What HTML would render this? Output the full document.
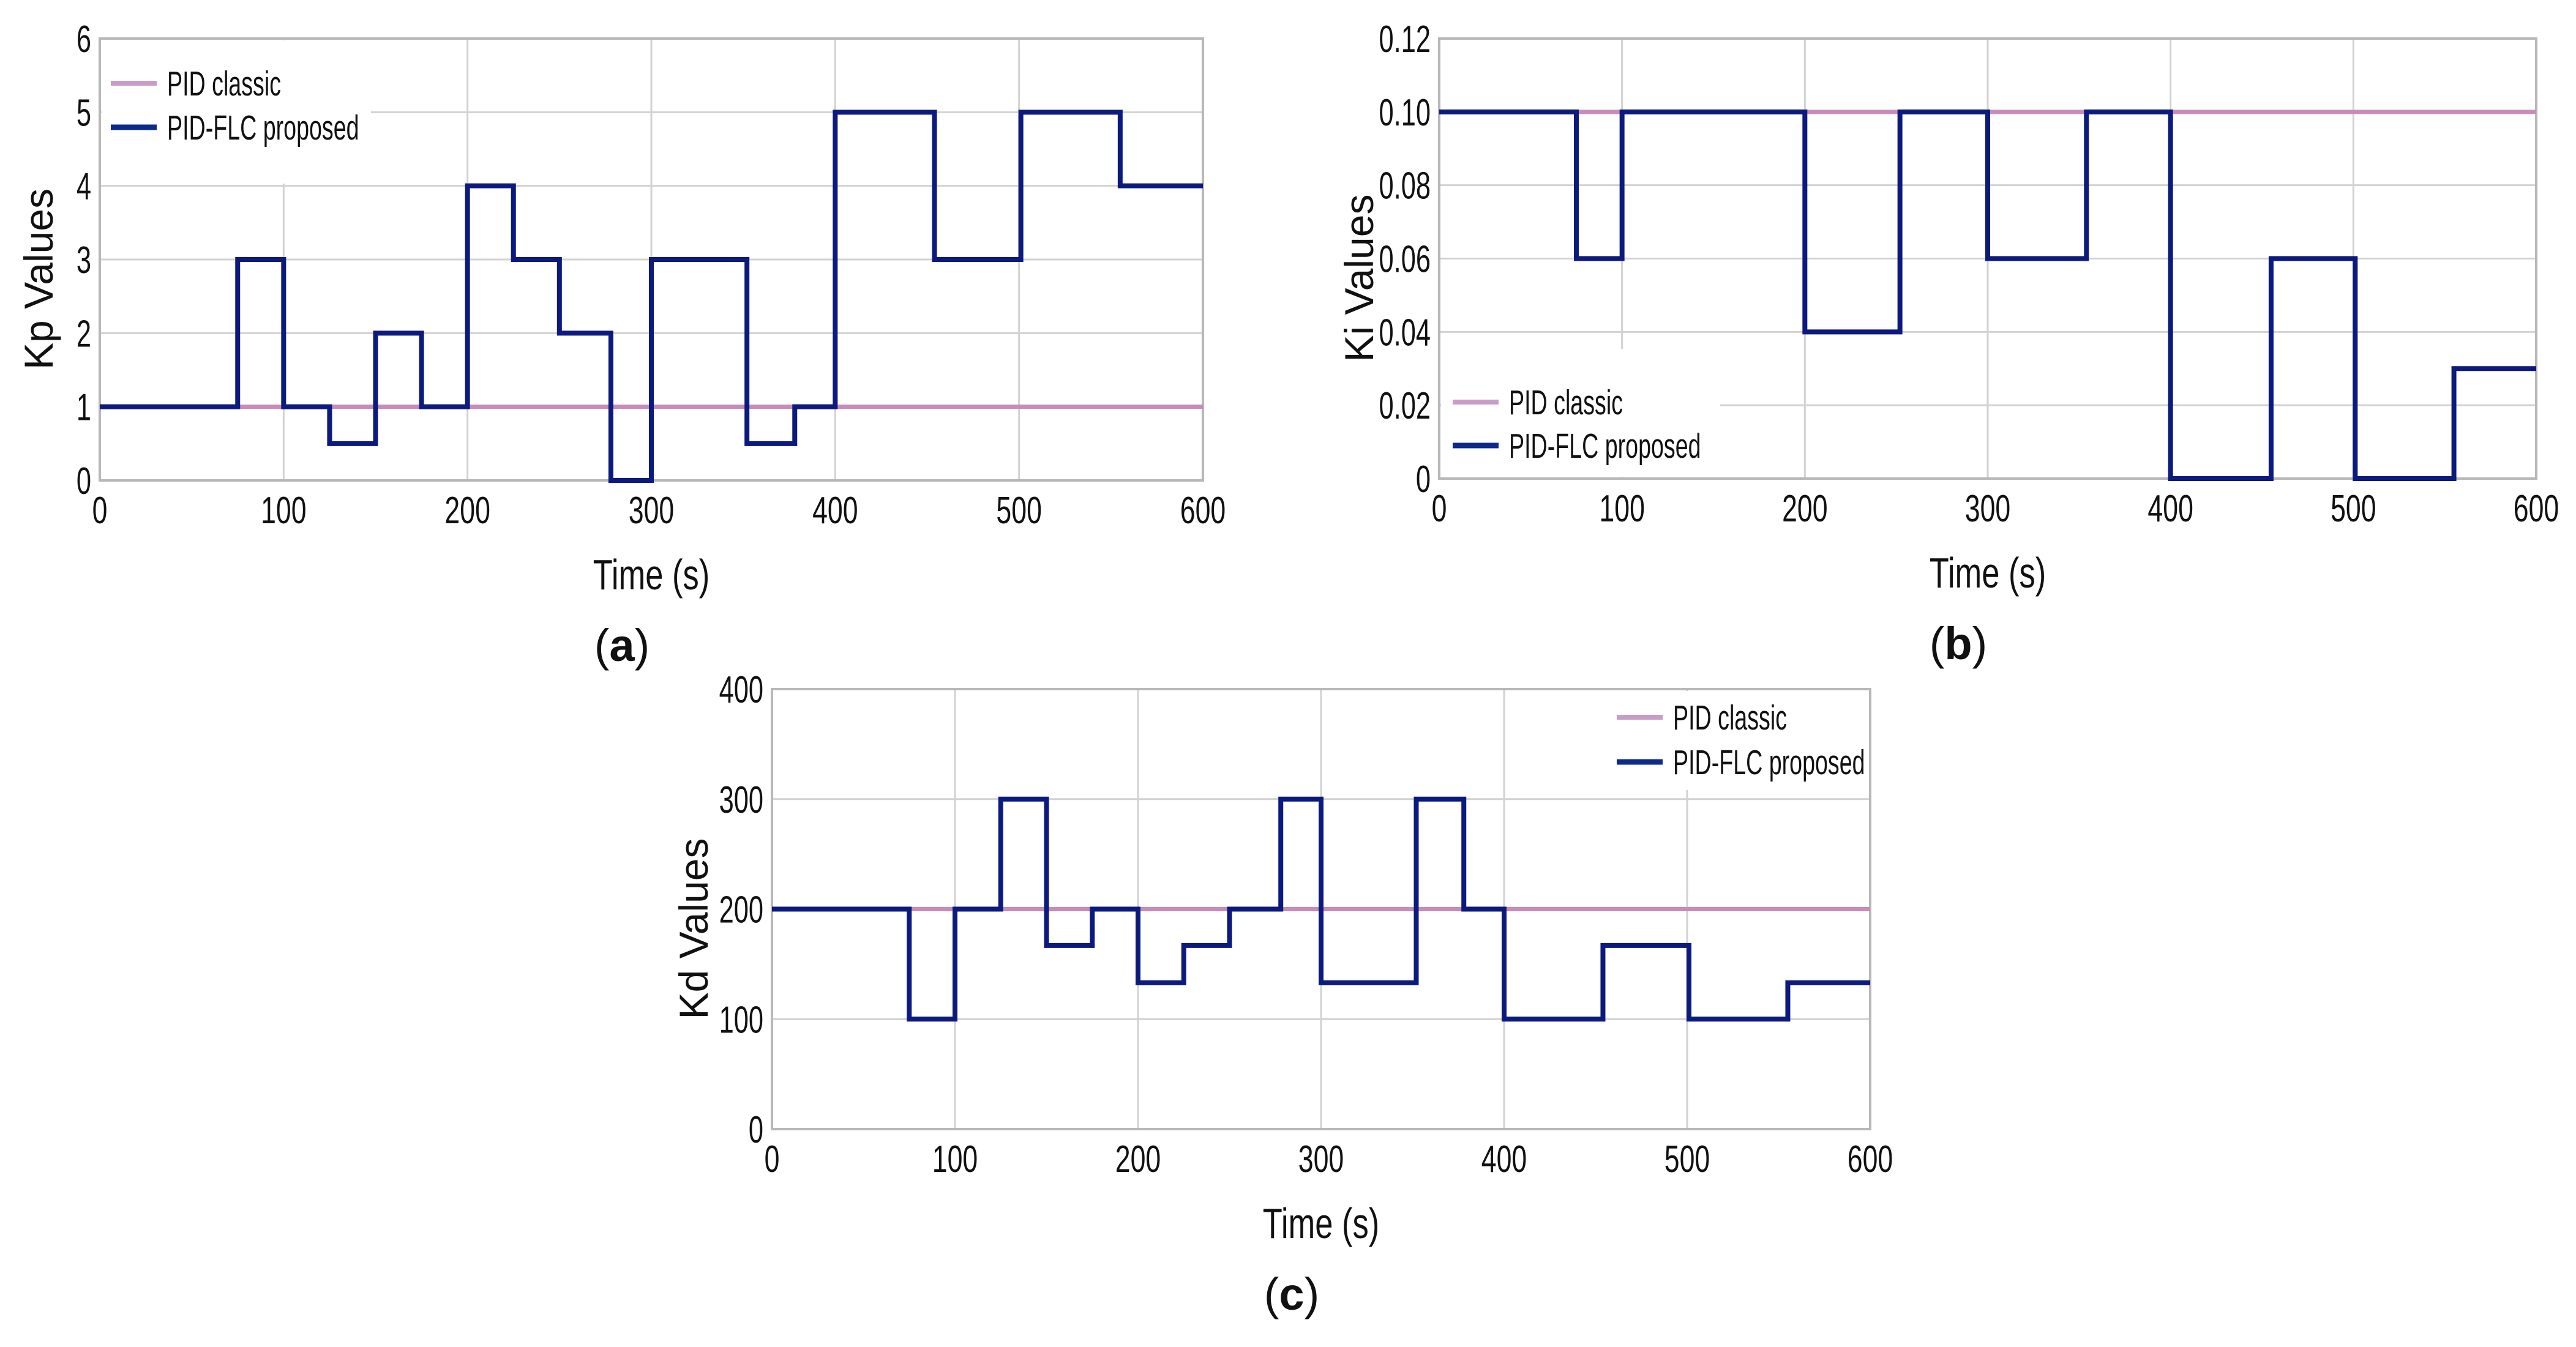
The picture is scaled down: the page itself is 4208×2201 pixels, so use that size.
<!DOCTYPE html>
<html><head><meta charset="utf-8"><style>
html,body{margin:0;padding:0;background:#fff;}
svg{display:block;}
text{font-family:"Liberation Sans",sans-serif;fill:#111;}
</style></head><body>
<svg id="fig" width="4208" height="2201" viewBox="0 0 4208 2201" xmlns="http://www.w3.org/2000/svg">
<rect width="4208" height="2201" fill="#fff"/>
</svg>
<script>
// shared x data
const timeTicks = [0,100,200,300,400,500,600];
// Kp panel
const kpEdges = [0,75,100,125,150,175,200,225,250,278,300,352,378,400,454,501,555,600];
const kpValues = [1,3,1,0.5,2,1,4,3,2,0,3,0.5,1,5,3,5,4];
const kpClassic = 1;
const kpTicks = [0,1,2,3,4,5,6];
const kpTickLabels = ["0","1","2","3","4","5","6"];
// Ki panel
const kiEdges = [0,75,100,200,252,300,354,400,455,501,555,600];
const kiValues = [0.1,0.06,0.1,0.04,0.1,0.06,0.1,0,0.06,0,0.03];
const kiClassic = 0.1;
const kiTicks = [0,0.02,0.04,0.06,0.08,0.10,0.12];
const kiTickLabels = ["0","0.02","0.04","0.06","0.08","0.10","0.12"];
// Kd panel
const kdEdges = [0,75,100,125,150,175,200,225,250,278,300,352,378,400,454,501,555,600];
const kdValues = [200,100,200,300,167,200,133,167,200,300,133,300,200,100,167,100,133];
const kdClassic = 200;
const kdTicks = [0,100,200,300,400];
const kdTickLabels = ["0","100","200","300","400"];

const NS = "http://www.w3.org/2000/svg";
const svg = document.getElementById('fig');
function mk(tag, attrs, parent){
  const e = document.createElementNS(NS, tag);
  for (const k in attrs) e.setAttribute(k, attrs[k]);
  (parent||svg).appendChild(e);
  return e;
}

function panel(cfg){
  const g = mk('g', {});
  
  
  const sx = v => cfg.x0 + (v - 0) / 600 * (cfg.x1 - cfg.x0);
  const sy = v => cfg.yb - (v - cfg.ymin) / (cfg.ymax - cfg.ymin) * (cfg.yb - cfg.yt);
  cfg.ticks.forEach((t, i) => {
    const l = mk('line', {x1:cfg.x0, x2:cfg.x1, y1:sy(t), y2:sy(t), stroke:'#d2d2d2', 'stroke-width':3}, g);
    
    
    const tx = mk('text', {transform:`translate(${cfg.x0-14},${sy(t)+22}) scale(0.7,1)`, 'text-anchor':'end', 'font-size':62}, g);
    tx.textContent = cfg.tickLabels[i];
    
    
  });
  timeTicks.forEach(t => {
    const l = mk('line', {x1:sx(t), x2:sx(t), y1:cfg.yt, y2:cfg.yb, stroke:'#d2d2d2', 'stroke-width':3}, g);
    
    
    const tx = mk('text', {transform:`translate(${sx(t)},${cfg.yb+70}) scale(0.72,1)`, 'text-anchor':'middle', 'font-size':62}, g);
    tx.textContent = String(t);
    
    
  });
  const lb = mk('rect', {x:cfg.lbx, y:cfg.lby, width:cfg.lbw, height:cfg.lbh, fill:'#fff'}, g);
  
  
  const fr = mk('rect', {x:cfg.x0, y:cfg.yt, width:cfg.x1-cfg.x0, height:cfg.yb-cfg.yt, fill:'none', stroke:'#b8b8b8', 'stroke-width':4}, g);
  
  
  const cl = mk('line', {x1:sx(0), x2:sx(600), y1:sy(cfg.classic), y2:sy(cfg.classic), stroke:'#c98bb9', 'stroke-width':7}, g);
  
  
  let d = '';
  cfg.values.forEach((v, i) => {
    const xa = sx(cfg.edges[i]), xb = sx(cfg.edges[i+1]), y = sy(v);
    d += (i === 0 ? `M${xa},${y}` : `L${xa},${y}`) + `L${xb},${y}`;
  });
  const p = mk('path', {d:d, fill:'none', stroke:'#0b1a7c', 'stroke-width':8, 'stroke-linejoin':'miter'}, g);
  
  
  const e1 = mk('line', {x1:cfg.lx, x2:cfg.lx+75, y1:cfg.ly1, y2:cfg.ly1, stroke:'#c99bc9', 'stroke-width':8}, g);
  
  
  const t1 = mk('text', {transform:`translate(${cfg.lx+92},${cfg.ly1+20}) scale(0.66,1)`, 'font-size':57}, g);
  t1.textContent = 'PID classic';
  
  
  const e2 = mk('line', {x1:cfg.lx, x2:cfg.lx+75, y1:cfg.ly2, y2:cfg.ly2, stroke:'#0b2a8a', 'stroke-width':9}, g);
  
  
  const t2 = mk('text', {transform:`translate(${cfg.lx+92},${cfg.ly2+20}) scale(0.66,1)`, 'font-size':57}, g);
  t2.textContent = 'PID-FLC proposed';
  
  
  const yt = mk('text', {transform:`translate(${cfg.ylx},${(cfg.yt+cfg.yb)/2+32}) rotate(-90)`, 'text-anchor':'middle', 'font-size':66}, g);
  yt.textContent = cfg.ylabel;
  
  
  const xt = mk('text', {transform:`translate(${(cfg.x0+cfg.x1)/2},${cfg.yb+178}) scale(0.75,1)`, 'text-anchor':'middle', 'font-size':70}, g);
  xt.textContent = 'Time (s)';
  
  
  const cap = mk('text', {x:(cfg.x0+cfg.x1)/2 - 48, y:cfg.yb+295, 'text-anchor':'middle', 'font-size':74, 'font-family':'Liberation Serif, serif'}, g);
  cap.innerHTML = '(<tspan font-weight="bold">' + cfg.cap + '</tspan>)';
  
  
}

panel({id:'kp', x0:163, x1:1965, yt:63, yb:785, ymin:0, ymax:6, ticks:kpTicks, tickLabels:kpTickLabels,
  edges:kpEdges, values:kpValues, classic:kpClassic, lbx:166, lby:66, lbw:440, lbh:234,
  lx:181, ly1:136, ly2:208, ylx:86, ylabel:'Kp Values', cap:'a'});
panel({id:'ki', x0:2351, x1:4143, yt:63, yb:782, ymin:0, ymax:0.12, ticks:kiTicks, tickLabels:kiTickLabels,
  edges:kiEdges, values:kiValues, classic:kiClassic, lbx:2354, lby:570, lbw:456, lbh:209,
  lx:2373, ly1:657, ly2:728, ylx:2243, ylabel:'Ki Values', cap:'b'});
panel({id:'kd', x0:1261, x1:3055, yt:1126, yb:1845, ymin:0, ymax:400, ticks:kdTicks, tickLabels:kdTickLabels,
  edges:kdEdges, values:kdValues, classic:kdClassic, lbx:2620, lby:1129, lbw:432, lbh:162,
  lx:2641, ly1:1172, ly2:1245, ylx:1156, ylabel:'Kd Values', cap:'c'});
</script>
</body></html>
